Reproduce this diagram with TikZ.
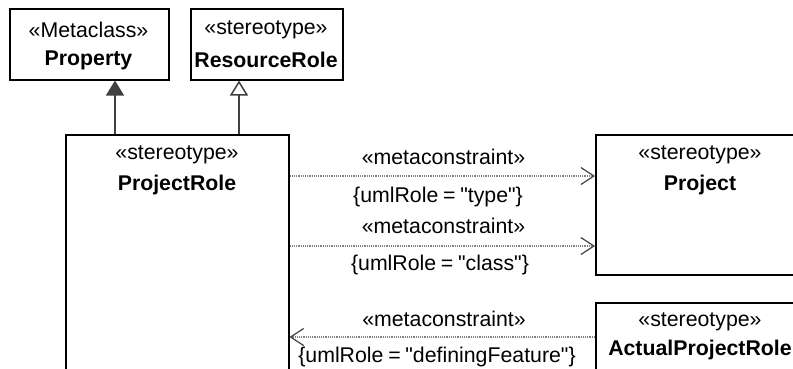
\documentclass[tikz,border=0pt]{standalone}
\usepackage{fontspec}
\setmainfont{Liberation Sans}[Ligatures=TeXOff, WordSpace=0.8]
\usetikzlibrary{arrows.meta, calc}
\definecolor{linegray}{RGB}{64,64,64}
\definecolor{dotgray}{RGB}{130,130,130}

\tikzset{
  classbox/.style={draw=black, line width=1.5pt, anchor=north west, inner sep=0pt},
  stereo/.style={font=\fontsize{21.3}{25}\selectfont, inner sep=0pt},
  classname/.style={font=\fontsize{21.3}{25}\selectfont\bfseries, inner sep=0pt},
  generalize/.style={draw=linegray, line width=1.5pt},
  metadep/.style={draw=dotgray, line width=1.2pt, dash pattern=on 1.2pt off 1pt,
    -{Straight Barb[length=13pt, width=17pt, color=linegray, line width=1.2pt]}},
}

\begin{document}
\begin{tikzpicture}[x=1pt, y=-1pt]
    \useasboundingbox (0,0) rectangle (793,368);
    \clip (0,0) rectangle (793,368);

    % class boxes
    \node[classbox, minimum width=159pt, minimum height=71pt] (property) at (9,8) {};
    \node[classbox, minimum width=152pt, minimum height=71pt] (resourcerole) at (190,8) {};
    \node[classbox, minimum width=223pt, minimum height=300pt] (projectrole) at (65,134) {};
    \node[classbox, minimum width=210pt, minimum height=140pt] (project) at (595,134) {};
    \node[classbox, minimum width=210pt, minimum height=120pt] (actualrole) at (595,302) {};

    \node[stereo] (propertyst) at (88.5,30) {«Metaclass»};
    \node[classname] (propertyname) at (88.5,60) {Property};
    \node[stereo] (resourcerolest) at (266,30) {«stereotype»};
    \node[classname] (resourcerolename) at (266,60) {ResourceRole};
    \node[stereo] (projectrolest) at (177,155) {«stereotype»};
    \node[classname] (projectrolename) at (177,185) {ProjectRole};
    \node[stereo] (projectst) at (700,155) {«stereotype»};
    \node[classname] (projectname) at (700,185) {Project};
    \node[stereo] (actualrolest) at (700,322) {«stereotype»};
    \node[classname] (actualrolename) at (700,350) {ActualProjectRole};

    % generalizations
    \coordinate (genA) at ($(projectrole.north west)+(50,0)$);
    \coordinate (genB) at ($(projectrole.north west)+(174,0)$);
    \draw[generalize, -{Triangle[width=18pt, length=15pt, fill=linegray]}]
      (genA) -- (genA |- property.south);
    \draw[generalize, -{Triangle[open, width=18pt, length=15pt, fill=white]}]
      (genB) -- (genB |- resourcerole.south);

    % metaconstraints
    \coordinate (depA) at ($(project.north west)+(0,42)$);
    \coordinate (depB) at ($(project.north west)+(0,112)$);
    \coordinate (depC) at ($(actualrole.north west)+(0,35)$);
    \draw[metadep] (projectrole.east |- depA) -- (depA);
    \draw[metadep] (projectrole.east |- depB) -- (depB);
    \draw[metadep] (depC) -- (projectrole.east |- depC);

    \node[stereo] (depAst) at (443.5,157) {«metaconstraint»};
    \node[stereo] (depArole) at (438,197) {\{umlRole = "type"\}};
    \node[stereo] (depBst) at (443.5,226) {«metaconstraint»};
    \node[stereo] (depBrole) at (440,265) {\{umlRole = "class"\}};
    \node[stereo] (depCst) at (444,319) {«metaconstraint»};
    \node[stereo] (depCrole) at (437,357) {\{umlRole = "definingFeature"\}};
\end{tikzpicture}
\end{document}
